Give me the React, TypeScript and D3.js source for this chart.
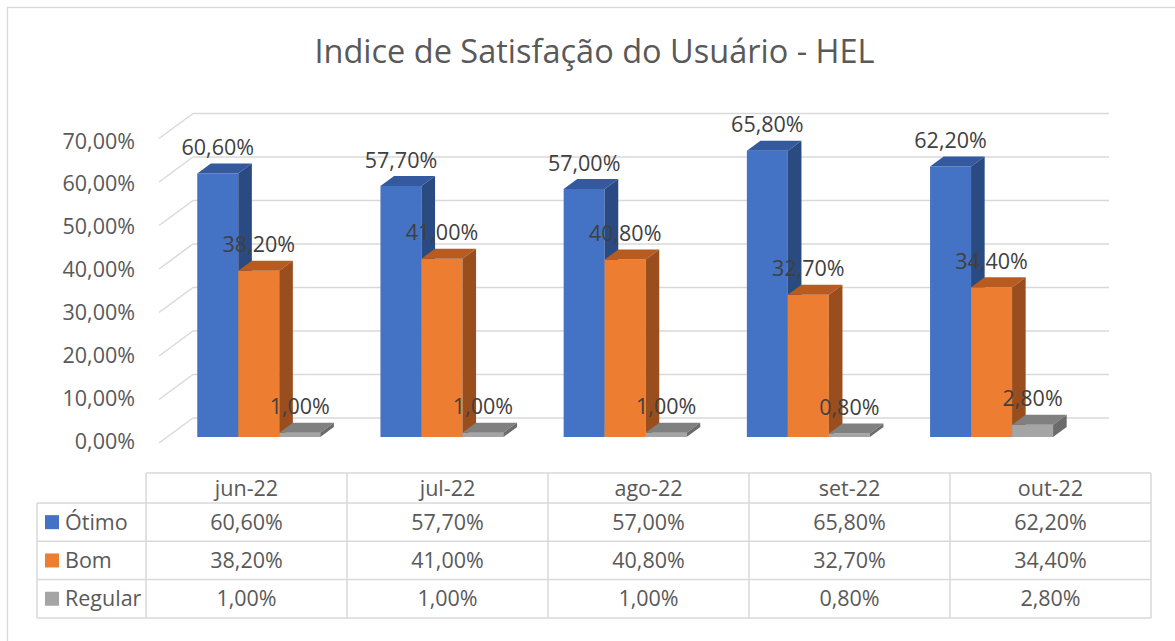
import React, { useEffect, useRef } from "react";
import * as d3 from "d3";

const months = ["jun-22", "jul-22", "ago-22", "set-22", "out-22"];
const otimo = [60.6, 57.7, 57.0, 65.8, 62.2];
const bom = [38.2, 41.0, 40.8, 32.7, 34.4];
const regular = [1.0, 1.0, 1.0, 0.8, 2.8];
const seriesNames = ["Ótimo", "Bom", "Regular"];
const yTicks = [0, 10, 20, 30, 40, 50, 60, 70];

const colors = [
  { front: "#4472C4", top: "#34599E", side: "#2A4A82" },
  { front: "#ED7D31", top: "#B85B20", side: "#9A4E1D" },
  { front: "#A5A5A5", top: "#808080", side: "#6B6B6B" },
];

const fmt = (v: number) => v.toFixed(2).replace(".", ",") + "%";

export default function App() {
  const ref = useRef<SVGSVGElement>(null);

  useEffect(() => {
    document.body.style.margin = "0";
    const svg = d3.select(ref.current);
    svg.selectAll("*").remove();
    const font = "'Open Sans', sans-serif";
    const fs = "21.5px";
    const values = [otimo, bom, regular];

    // chart border (only top and left visible)
    svg.append("rect")
      .attr("x", 7.5).attr("y", 7.5)
      .attr("width", 1200).attr("height", 700)
      .attr("fill", "#fff").attr("stroke", "#D9D9D9").attr("stroke-width", 1.3);

    svg.append("text")
      .attr("x", 594.5).attr("y", 63)
      .attr("text-anchor", "middle")
      .style("font-family", font).style("font-size", "32.5px")
      .attr("fill", "#595959")
      .text("Indice de Satisfação do Usuário - HEL");

    // oblique 3d projection
    const dX = 34, dY = -25;
    const z1 = 0.24, z2 = 0.64;
    const x = d3.scaleBand().domain(months).range([159, 1075]);
    const xi = d3.scaleBand().domain(["0", "1", "2"]).range([0, x.bandwidth()]).paddingOuter(0.734);
    const y = d3.scaleLinear().domain([0, 70]).range([443, 138.5]);
    const labelY = d3.scaleLinear().domain([0, 70]).range([441, 141]);
    const [fx0, fx1] = x.range();

    const grid = svg.append("g").attr("stroke", "#D9D9D9").attr("stroke-width", 1.5).attr("fill", "none");
    yTicks.forEach(t => {
      grid.append("line")
        .attr("x1", fx0 + dX).attr("x2", fx1 + dX)
        .attr("y1", y(t) + dY).attr("y2", y(t) + dY);
      grid.append("line")
        .attr("x1", fx0).attr("x2", fx0 + dX)
        .attr("y1", y(t)).attr("y2", y(t) + dY);
    });

    svg.append("g").selectAll("text").data(yTicks).enter().append("text")
      .attr("x", 135).attr("y", d => labelY(d))
      .attr("dy", "0.35em").attr("text-anchor", "end")
      .style("font-family", font).style("font-size", fs)
      .attr("fill", "#595959")
      .text(d => fmt(d));

    const bars = svg.append("g");
    const labels: { x: number; y: number; t: string }[] = [];
    months.forEach((m, i) => {
      values.forEach((arr, s) => {
        const v = arr[i];
        const a = x(m)! + xi(String(s))!;
        const b = a + xi.bandwidth();
        const yt = y(v), yb = y(0);
        const p = (px: number, py: number, z: number) => [px + z * dX, py + z * dY].join(",");
        const c = colors[s];
        bars.append("polygon")
          .attr("points", [p(a, yt, z1), p(b, yt, z1), p(b, yb, z1), p(a, yb, z1)].join(" "))
          .attr("fill", c.front);
        bars.append("polygon")
          .attr("points", [p(a, yt, z1), p(b, yt, z1), p(b, yt, z2), p(a, yt, z2)].join(" "))
          .attr("fill", c.top);
        bars.append("polygon")
          .attr("points", [p(b, yt, z1), p(b, yt, z2), p(b, yb, z2), p(b, yb, z1)].join(" "))
          .attr("fill", c.side);
        labels.push({ x: (a + b) / 2 + z1 * dX, y: yt + z2 * dY - 16, t: fmt(v) });
      });
    });

    svg.append("g").selectAll("text").data(labels).enter().append("text")
      .attr("x", d => d.x).attr("y", d => d.y)
      .attr("dy", "0.35em").attr("text-anchor", "middle")
      .style("font-family", font).style("font-size", fs)
      .attr("fill", "#404040")
      .text(d => d.t);

    // data table
    const tx = d3.scaleBand().domain(months).range([146, 1151]);
    const headTop = 473, headBot = 503, rowH = 38.3;
    const rowY = (r: number) => headBot + r * rowH;
    const tbl = svg.append("g").attr("stroke", "#D9D9D9").attr("stroke-width", 1.5).attr("fill", "none");
    tbl.append("line").attr("x1", 146).attr("x2", 1151).attr("y1", headTop).attr("y2", headTop);
    tbl.append("line").attr("x1", 37).attr("x2", 1151).attr("y1", headBot).attr("y2", headBot);
    [1, 2, 3].forEach(r => {
      tbl.append("line").attr("x1", 37).attr("x2", 1151).attr("y1", rowY(r)).attr("y2", rowY(r));
    });
    tbl.append("line").attr("x1", 37).attr("x2", 37).attr("y1", headBot).attr("y2", rowY(3));
    months.forEach(m => {
      tbl.append("line").attr("x1", tx(m)!).attr("x2", tx(m)!).attr("y1", headTop).attr("y2", rowY(3));
    });
    tbl.append("line").attr("x1", 1151).attr("x2", 1151).attr("y1", headTop).attr("y2", rowY(3));

    const tt = svg.append("g")
      .style("font-family", font).style("font-size", fs)
      .attr("fill", "#595959");
    months.forEach(m => {
      tt.append("text")
        .attr("x", tx(m)! + tx.bandwidth() / 2).attr("y", (headTop + headBot) / 2)
        .attr("dy", "0.35em").attr("text-anchor", "middle")
        .text(m);
    });
    seriesNames.forEach((name, s) => {
      const cy = rowY(s) + rowH / 2;
      svg.append("rect")
        .attr("x", 45).attr("y", cy - 7).attr("width", 14).attr("height", 14)
        .attr("fill", colors[s].front);
      tt.append("text").attr("x", 65).attr("y", cy).attr("dy", "0.35em").text(name);
      months.forEach((m, i) => {
        tt.append("text")
          .attr("x", tx(m)! + tx.bandwidth() / 2).attr("y", cy)
          .attr("dy", "0.35em").attr("text-anchor", "middle")
          .text(fmt(values[s][i]));
      });
    });
  }, []);

  return (
    <div className="chart">
      <svg ref={ref} width={1175} height={641} style={{ display: "block" }} />
    </div>
  );
}
